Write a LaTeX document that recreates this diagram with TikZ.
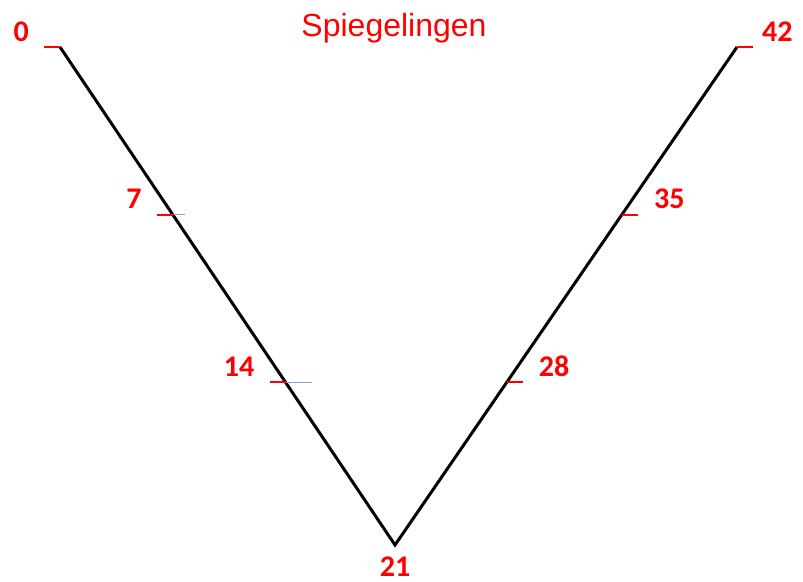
\documentclass[tikz,border=0pt]{standalone}
\usepackage{fontspec}
\setmainfont{Carlito}
\newfontfamily\titlefont{Liberation Sans}
\usetikzlibrary{calc}
\definecolor{markred}{RGB}{255,0,0}
\definecolor{guideblue}{RGB}{130,160,220}

\begin{document}
\begin{tikzpicture}[x=1pt,y=-1pt,
  vline/.style={line width=3pt, line join=miter},
  tickmark/.style={markred, line width=2.2pt},
  guide/.style={guideblue, line width=0.9pt},
  num/.style={font=\fontsize{30}{30}\selectfont\bfseries, text=markred, inner sep=0pt}]
\useasboundingbox (0,0) rectangle (803,581);
% V shape
\coordinate (top0) at (60,47);
\coordinate (bot21) at (395,545);
\coordinate (top42) at (737,47);
\draw[vline] (top0) -- (bot21) -- (top42);
% title
\node[font=\titlefont\fontsize{32}{32}\selectfont, text=markred, anchor=base] (title) at (394,36) {Spiegelingen};
% left arm: ticks point left
\foreach \f/\l in {0/0, 0.3367/7, 0.6733/14} {
  \coordinate (m\l) at ($(top0)!\f!(bot21)$);
  \draw[tickmark] (m\l) -- ++(-16,0) coordinate (e\l);
  \node[num, anchor=base east] (n\l) at ($(e\l)+(-15,-6)$) {\l};
}
% right arm: ticks point right
\foreach \f/\l/\g in {0/42/9, 0.3367/35/16, 0.6733/28/16} {
  \coordinate (m\l) at ($(top42)!\f!(bot21)$);
  \draw[tickmark] (m\l) -- ++(16,0) coordinate (e\l);
  \node[num, anchor=base west] (n\l) at ($(e\l)+(\g,-6)$) {\l};
}
% thin blue guides
\draw[guide] (m7) -- ++(12,0);
\draw[guide] (m14) -- ++(26,0);
% bottom label
\node[num, anchor=base] (n21) at ($(bot21)+(0,31)$) {21};
\end{tikzpicture}
\end{document}
